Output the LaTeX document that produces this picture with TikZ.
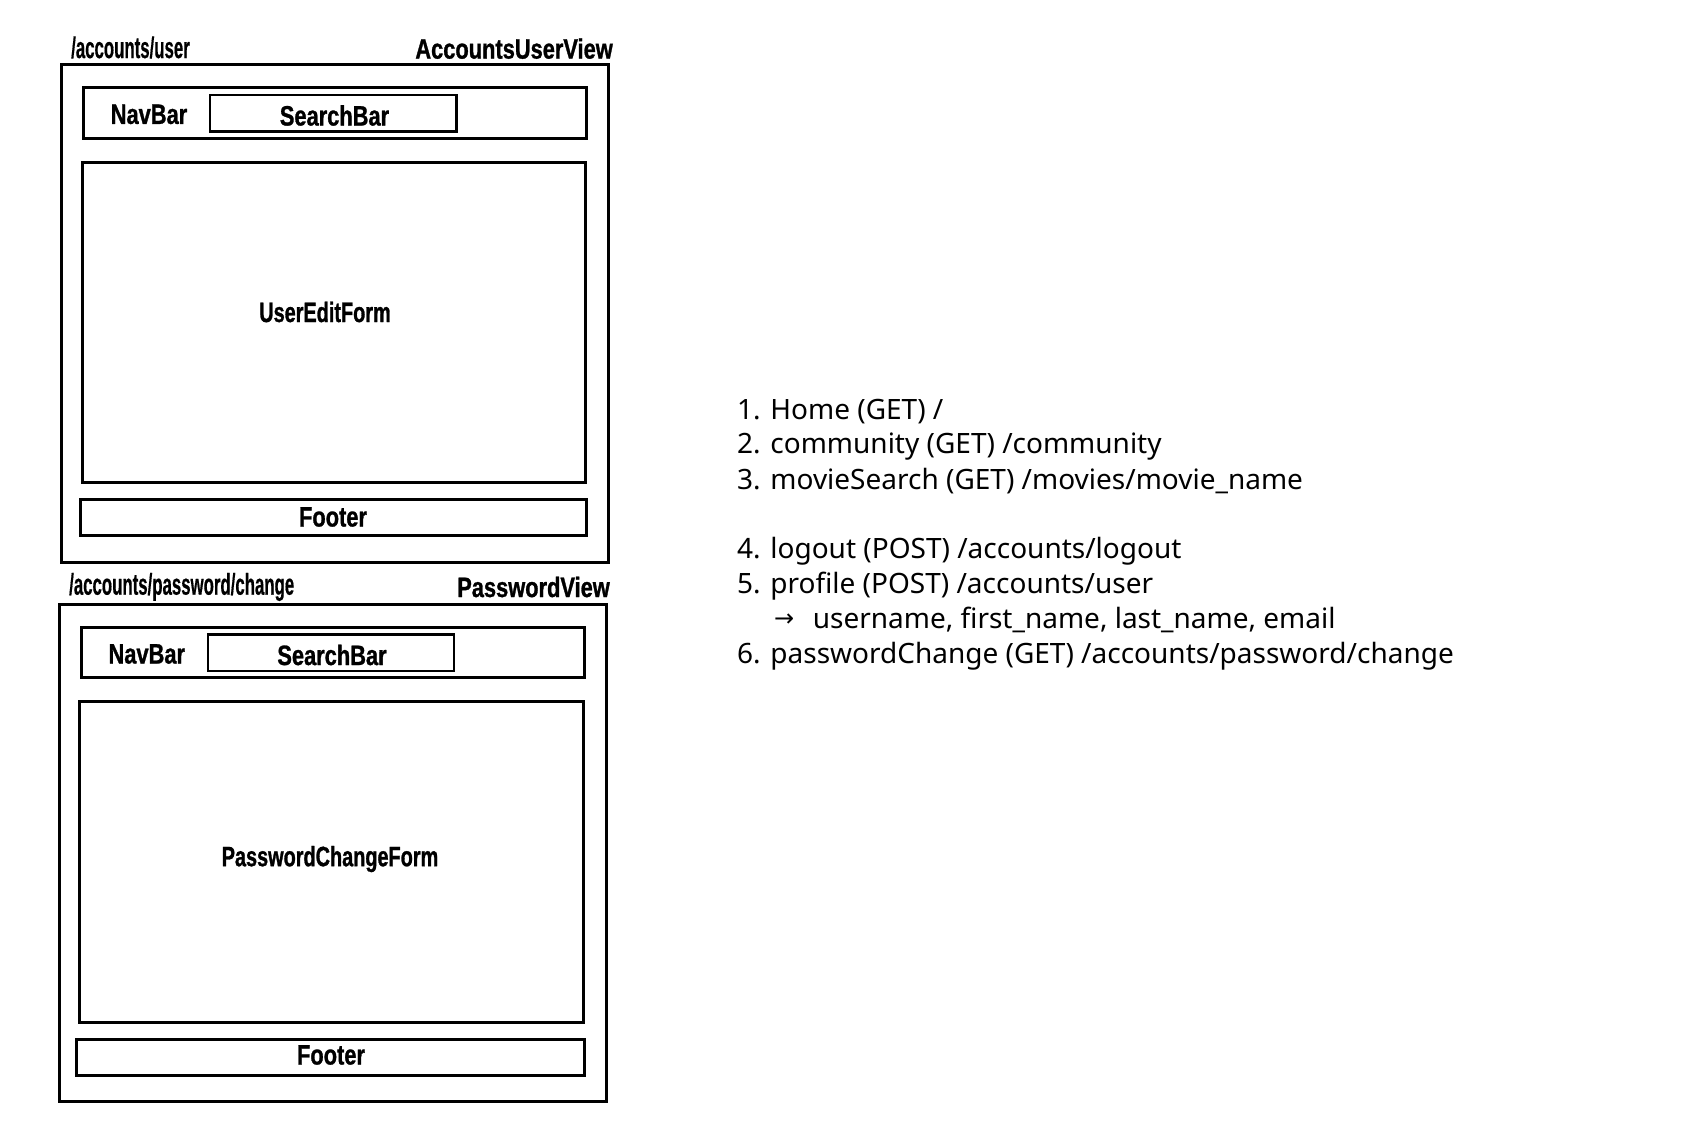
\documentclass[tikz,border=0pt]{standalone}
\usepackage{fontspec}
\setmainfont{Noto Sans}
\newfontfamily\condA[FakeStretch=0.78,FakeBold=1]{Liberation Sans}
\newfontfamily\condB[FakeStretch=0.71,FakeBold=1]{Liberation Sans}
\newfontfamily\condP[FakeStretch=0.56,FakeBold=0.4]{Liberation Sans}
\newfontfamily\arrowfont{DejaVu Sans}
\begin{document}
\begin{tikzpicture}[x=1pt,y=-1pt,
  frame/.style={draw=black, line width=3pt, inner sep=0pt, outer sep=0pt, fill=none},
  lbl/.style={inner sep=0pt, font=\condA\bfseries\fontsize{28}{32}\selectfont},
  formlbl/.style={inner sep=0pt, font=\condB\bfseries\fontsize{28}{32}\selectfont},
  path/.style={inner sep=0pt, font=\condP\bfseries\fontsize{30}{34}\selectfont},
  route/.style={inner sep=0pt, anchor=base west, font=\fontsize{28}{32}\selectfont}]
\useasboundingbox[fill=white] (0,0) rectangle (1692,1124);

% ---------- AccountsUserView ----------
\node[frame, minimum width=547pt, minimum height=497.5pt] (v1) at (335.05,313.45) {};
\node[frame, minimum width=503pt, minimum height=50.6pt] (nav1) at (334.5,112.7) {};
\node[frame, line width=2.6pt, minimum width=246.5pt, minimum height=36.6pt] (search1) at (333.25,113.3) {};
\node[lbl] (search1t) at (334.5,115.5) {SearchBar};
\node[lbl] (nav1t) at (149,114.4) {NavBar};
\node[frame, minimum width=503pt, minimum height=320pt] (form1) at (333.5,322) {};
\node[formlbl] (form1t) at (325,312) {UserEditForm};
\node[frame, minimum width=506pt, minimum height=35.4pt] (foot1) at (333,517.3) {};
\node[lbl] (foot1t) at (333,517) {Footer};
\node[path, anchor=west] (p1) at (71,47.5) {/accounts/user};
\node[lbl, anchor=east] (t1) at (613,48.6) {AccountsUserView};

% ---------- PasswordView ----------
\node[frame, minimum width=547.2pt, minimum height=497.7pt] (v2) at (332.9,852.85) {};
\node[frame, minimum width=503pt, minimum height=50.7pt] (nav2) at (332.5,652.35) {};
\node[frame, line width=2.6pt, minimum width=246pt, minimum height=36.5pt] (search2) at (331,652.75) {};
\node[lbl] (search2t) at (332,655) {SearchBar};
\node[lbl] (nav2t) at (146.8,654) {NavBar};
\node[frame, minimum width=504pt, minimum height=321pt] (form2) at (331,861.5) {};
\node[formlbl] (form2t) at (330,859) {PasswordChangeForm};
\node[frame, minimum width=507.4pt, minimum height=36pt] (foot2) at (330.3,1057) {};
\node[lbl] (foot2t) at (331,1055) {Footer};
\node[path, anchor=west] (p2) at (69,587) {/accounts/password/change};
\node[lbl, anchor=east] (t2) at (610,587) {PasswordView};

% ---------- routes ----------
\node[route] (r1) at (737,419) {1. Home (GET) /};
\node[route] (r2) at (737,453.5) {2. community (GET) /community};
\node[route] (r3) at (737,489) {3. movieSearch (GET) /movies/movie\_name};
\node[route] (r4) at (737,558) {4. logout (POST) /accounts/logout};
\node[route] (r5) at (737,593) {5. profile (POST) /accounts/user};
\node[route, font=\arrowfont\fontsize{24}{28}\selectfont] (r5a) at (774,626) {→};
\node[route] (r5b) at (812.6,628) {username, first\_name, last\_name, email};
\node[route] (r6) at (737,663) {6. passwordChange (GET) /accounts/password/change};
\end{tikzpicture}
\end{document}
